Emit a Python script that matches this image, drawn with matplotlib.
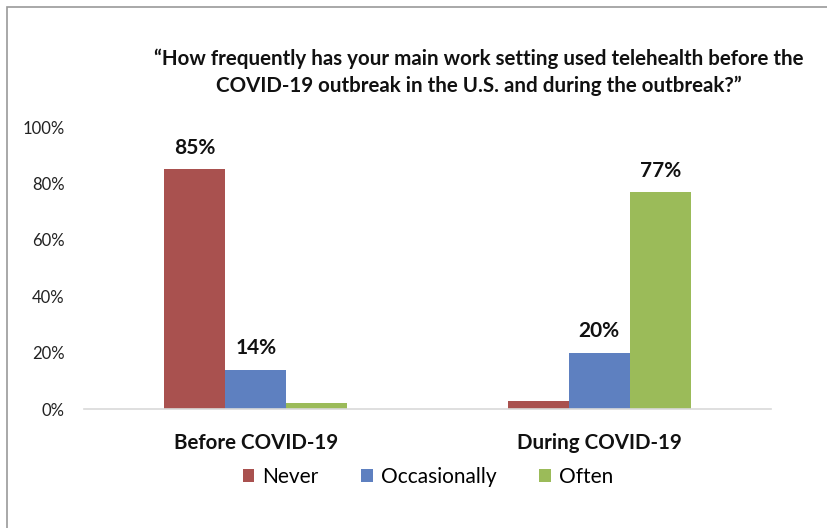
import numpy as np
import matplotlib
matplotlib.use('Agg')
from matplotlib import pyplot as plt
from matplotlib.patches import Rectangle

# data
groups = ['Before COVID-19', 'During COVID-19']
series = ['Never', 'Occasionally', 'Often']
never = [85, 3]
occasionally = [14, 20]
often = [2, 77]
shown = [[True, False], [True, True], [False, True]]   # which bars carry a label
colors = ['#A9514F', '#5E80C0', '#9BBB59']
yticks = [0, 20, 40, 60, 80, 100]

plt.rcParams['font.family'] = ['Lato', 'DejaVu Sans']

fig = plt.figure(figsize=(8.27, 5.28), dpi=100)
ax = fig.add_axes([84/827, 1-409/528, (771-84)/827, (409-127)/528])

x = np.arange(len(groups))
w = 0.178
vals = [never, occasionally, often]
for i, (name, v) in enumerate(zip(series, vals)):
    bars = ax.bar(x + (i-1)*w, v, w, color=colors[i], label=name, zorder=2)
    for b, val, s in zip(bars, v, shown[i]):
        if s:
            ax.text(b.get_x() + b.get_width()/2, val + 4, f'{val}%',
                    ha='center', va='bottom', fontsize=15, fontweight='bold',
                    color='#111111')

ax.set_xlim(-0.5, 1.5)
ax.set_ylim(0, 100)
ax.set_yticks(yticks)
ax.set_yticklabels([f'{t}%' for t in yticks], fontsize=12, color='#222222')
ax.set_xticks(x)
ax.set_xticklabels(groups, fontsize=14.8, fontweight='bold', color='#111111')
ax.tick_params(axis='both', length=0)
ax.tick_params(axis='x', pad=17)
ax.tick_params(axis='y', pad=14)
for s in ['top', 'right', 'left']:
    ax.spines[s].set_visible(False)
ax.spines['bottom'].set_color('#D9D9D9')
ax.spines['bottom'].set_linewidth(1.2)

fig.text(479/827, 1-72/528,
         '\u201cHow frequently has your main work setting used telehealth before the\n'
         'COVID-19 outbreak in the U.S. and during the outbreak?\u201d',
         ha='center', va='center', fontsize=14.8, fontweight='bold',
         linespacing=1.42, color='#111111')

ax.legend(loc='center', bbox_to_anchor=(428/827, 1-477/528),
          bbox_transform=fig.transFigure, ncol=3, frameon=False,
          fontsize=15, handlelength=0.55, handleheight=0.55,
          handletextpad=0.4, columnspacing=2.05)

# outer frame, left and top edges visible
fig.patches.append(Rectangle((7/827, -0.1), 1.2, 1-7/528+0.1,
                             transform=fig.transFigure, fill=False,
                             edgecolor='#9A9A9A', linewidth=1.2))

fig.savefig('out.png', dpi=100)
